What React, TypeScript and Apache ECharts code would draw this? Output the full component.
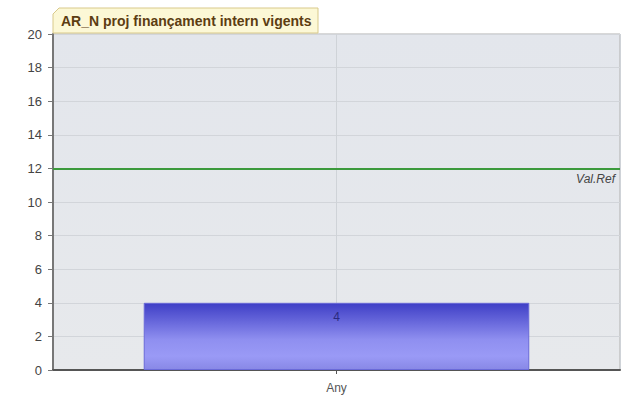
import React, { useEffect, useRef } from "react";
import * as echarts from "echarts";

const categories = ["Any"];
const values = [4];
const refValue = 12;
const refLabel = "Val.Ref";
const titleText = "AR_N proj finançament intern vigents";

export default function App() {
  const ref = useRef<HTMLDivElement>(null);
  useEffect(() => {
    if (!ref.current) return;
    const chart = echarts.init(ref.current, null, { renderer: "svg" });
    chart.setOption({
      animation: false,
      backgroundColor: "#ffffff",
      grid: {
        left: 53,
        right: 8,
        top: 34,
        bottom: 30,
        show: true,
        backgroundColor: new echarts.graphic.LinearGradient(0, 0, 0, 1, [
          { offset: 0, color: "#e3e6ec" },
          { offset: 1, color: "#e7e9ec" },
        ]),
        borderColor: "#b0b0b0",
        borderWidth: 1,
      },
      graphic: [
        {
          type: "polygon",
          shape: {
            points: [
              [53, 33],
              [53, 14],
              [59, 8],
              [318, 8],
              [318, 33],
            ],
          },
          style: { fill: "#fcf8d6", stroke: "#d8c98a", lineWidth: 1 },
          z: 10,
        },
        {
          type: "text",
          x: 61,
          y: 21,
          style: {
            text: titleText,
            font: "bold 14px Arial",
            fill: "#5c3d12",
            verticalAlign: "middle",
          },
          z: 11,
        },
      ],
      xAxis: [
        {
          type: "category",
          data: categories,
          axisLine: { lineStyle: { color: "#555", width: 2 } },
          axisTick: { show: true, alignWithLabel: true, length: 4, lineStyle: { color: "#555" } },
          axisLabel: { color: "#555", fontSize: 12, fontFamily: "Arial", margin: 12 },
          splitLine: { show: false },
        },
        {
          type: "value",
          min: 0,
          max: 2,
          interval: 1,
          position: "bottom",
          show: true,
          axisLine: { show: false },
          axisTick: { show: false },
          axisLabel: { show: false },
          splitLine: { show: true, lineStyle: { color: "#cfd3d8" } },
        },
      ],
      yAxis: {
        type: "value",
        min: 0,
        max: 20,
        interval: 2,
        axisLine: { show: true, lineStyle: { color: "#777", width: 2 } },
        axisTick: { show: true, length: 5, lineStyle: { color: "#777" } },
        axisLabel: { color: "#444", fontSize: 13, fontFamily: "Arial", margin: 11 },
        splitLine: { show: true, lineStyle: { color: "#d2d5da" } },
      },
      series: [
        {
          type: "bar",
          data: values,
          xAxisIndex: 0,
          barWidth: "68%",
          itemStyle: {
            color: new echarts.graphic.LinearGradient(0, 0, 0, 1, [
              { offset: 0, color: "#3f3fc6" },
              { offset: 0.55, color: "#8f8ff0" },
              { offset: 0.8, color: "#9a9af6" },
              { offset: 1, color: "#8888e6" },
            ]),
            borderColor: "#6a6ad8",
            borderWidth: 1,
          },
          label: {
            show: true,
            position: "insideTop",
            distance: 8,
            color: "#2a2a80",
            fontSize: 12,
            fontFamily: "Arial",
          },
          markLine: {
            symbol: "none",
            silent: true,
            lineStyle: { color: "#3c9a3c", width: 2, type: "solid" },
            label: {
              show: true,
              position: "insideEndBottom",
              formatter: refLabel,
              color: "#444",
              fontStyle: "italic",
              fontSize: 12,
              fontFamily: "Arial",
              distance: 5,
            },
            data: [{ yAxis: refValue }],
          },
        },
      ],
    });
    return () => chart.dispose();
  }, []);
  return <div ref={ref} style={{ width: 628, height: 400, position: "absolute", left: 0, top: 0 }} />;
}
